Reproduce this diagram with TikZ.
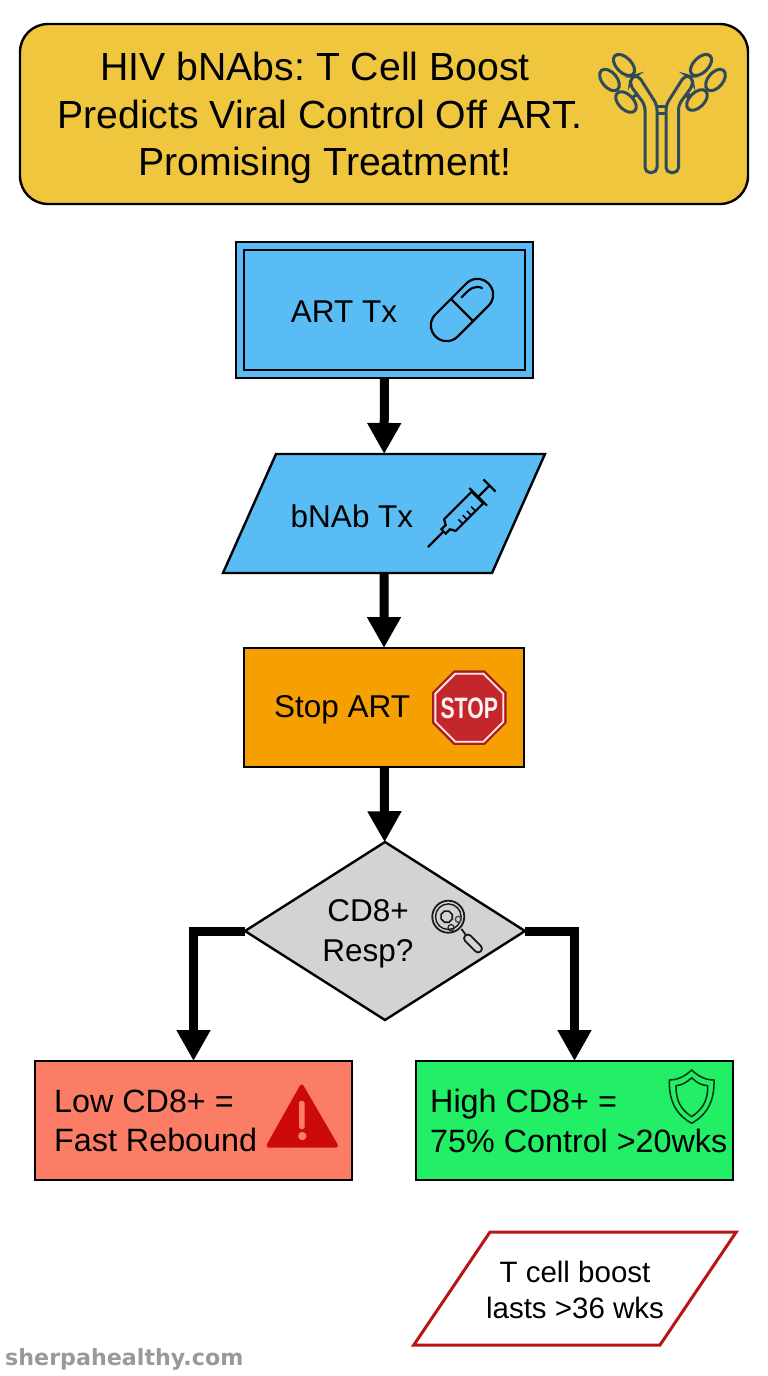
\documentclass[tikz,border=0pt]{standalone}
\usepackage{fontspec}
\setmainfont{Liberation Sans}
\newfontfamily\markfont{DejaVu Sans}
\usetikzlibrary{arrows.meta,shapes.geometric}
\definecolor{titlefill}{HTML}{EFC63E}
\definecolor{bluefill}{HTML}{5ABCF5}
\definecolor{orangefill}{HTML}{F5A000}
\definecolor{greyfill}{HTML}{D3D3D3}
\definecolor{lowfill}{HTML}{FB7D66}
\definecolor{highfill}{HTML}{22EE66}
\definecolor{noteline}{HTML}{B81414}
\definecolor{abcolor}{HTML}{2F4A5A}
\definecolor{stopfill}{HTML}{C4272B}
\definecolor{warnfill}{HTML}{CC0A0A}
\frenchspacing
\begin{document}
\begin{tikzpicture}[
  x=1pt, y=-1pt,
  box/.style={draw=black, line width=2.4pt, inner sep=0pt, outer sep=0pt},
  para/.style={box, trapezium},
  flow/.style={line width=9pt, black, -{Triangle[width=32pt,length=31pt]}},
  txt/.style={font=\fontsize{31.5}{39.5}\selectfont, align=center, inner sep=0pt},
  sidetxt/.style={txt, font=\fontsize{32.3}{39.5}\selectfont, anchor=west, align=left},
  ab/.style={abcolor, line width=3pt},
  icon/.style={black, line width=2.2pt},
  lens/.style={black!90, line width=1.8pt},
]
\useasboundingbox (0,0) rectangle (768,1376);

% --- title ---
\node[box, fill=titlefill, rounded corners=28pt, minimum width=728pt, minimum height=180pt] (title) at (384,114) {};
\node[inner sep=0pt, align=center, font=\fontsize{39.2}{47.2}\selectfont] (titletxt) at (320,118) {HIV bNAbs: T Cell Boost\hspace*{10pt}\\Predicts Viral Control Off ART.\\\hspace*{10pt}Promising Treatment!};

% --- flow boxes ---
\node[box, fill=bluefill, minimum width=297pt, minimum height=136pt] (art) at (384.5,310) {};
\node[box, minimum width=281pt, minimum height=120pt] (artin) at (384.5,310) {};
\node[para, fill=bluefill, trapezium left angle=66, trapezium right angle=114] (bnab) at (384,513.5) {\phantom{\rule{216pt}{119pt}}};
\node[box, fill=orangefill, minimum width=280pt, minimum height=119pt] (stop) at (384,707.5) {};
\node[box, diamond, fill=greyfill, minimum width=280pt, minimum height=178pt] (resp) at (385,931) {};
\node[box, fill=lowfill, minimum width=317pt, minimum height=119pt] (low) at (193.5,1120.5) {};
\node[box, fill=highfill, minimum width=317pt, minimum height=119pt] (high) at (574.5,1120.5) {};
\node[para, draw=noteline, line width=3pt, fill=white, trapezium left angle=56, trapezium right angle=124] (note) at (575,1288.5) {\phantom{\rule{170pt}{113pt}}};

% --- arrows ---
\draw[flow] (art) -- (bnab);
\draw[flow] (bnab) -- (stop);
\draw[flow] (stop) -- (resp);
\draw[flow] (resp.west) -| (low.north);
\draw[flow] (resp.east) -| (high.north);

% --- labels ---
\node[txt] (arttxt) at (344,312) {ART Tx};
\node[txt] (bnabtxt) at (352,516) {bNAb Tx};
\node[txt] (stoptxt) at (342,710) {Stop ART};
\node[txt] (resptxt) at (368,934) {CD8+\\Resp?};
\node[sidetxt] (lowtxt) at (54,1121) {Low CD8+ =\\Fast Rebound};
\node[sidetxt] (hightxt) at (430,1121) {High CD8+ =\\75\% Control >20wks};
\node[txt, font=\fontsize{29.5}{36}\selectfont] (notetxt) at (575,1290) {T cell boost\\lasts >36 wks};
\node[anchor=base west, inner sep=0pt, text=black!40, font=\markfont\bfseries\fontsize{22.2}{26}\selectfont] (site) at (5,1365) {sherpahealthy.com};

% --- antibody icon ---
\draw[ab, rounded corners=5pt] (645,105) -- (645,172.5) -- (657,172.5) -- (657,105) -- (638,75) -- (631,77) -- (630,85) -- cycle;
\draw[ab, rounded corners=5pt] (678.5,105) -- (678.5,172.5) -- (666,172.5) -- (666,105) -- (685,75) -- (692,77) -- (693,85) -- cycle;
\draw[ab] (657,106) -- (666,106) (657,113) -- (666,113);
\draw[ab, rotate around={-45:(624,65)}] (624,65) ellipse (13 and 7.5);
\draw[ab, rotate around={-50:(609.5,80)}] (609.5,80) ellipse (12.5 and 7.5);
\draw[ab, rotate around={-45:(626,102)}] (626,102) ellipse (12.5 and 7.5);
\draw[ab, rotate around={45:(701,65)}] (701,65) ellipse (13 and 7.5);
\draw[ab, rotate around={50:(715.5,80)}] (715.5,80) ellipse (12.5 and 7.5);
\draw[ab, rotate around={45:(697,100)}] (697,100) ellipse (12.5 and 7.5);
\draw[ab] (633,97) -- (638,94) (690,94) -- (686,97);

% --- pill icon ---
\begin{scope}[shift={(462,310)}, rotate=45]
\draw[icon, rounded corners=15.5pt] (-37.4,-15.7) rectangle (37.4,15.7);
\draw[icon] (0,-15.7) -- (0,15.7);
\end{scope}
\draw[icon, line cap=round] (461.7,297.3) .. controls (470,288) and (475,285) .. (482,288);

% --- syringe icon ---
\begin{scope}[shift={(428,547)}, rotate=45]
\draw[icon] (0,0) -- (22,0);
\draw[icon] (22,-3) -- (22,3) -- (28,3) -- (31,8.2) -- (70,8.2) -- (70,-8.2) -- (31,-8.2) -- (28,-3) -- cycle;
\draw[icon] (71,-12.5) -- (71,12.5);
\draw[icon] (71,0) -- (87,0);
\draw[icon] (87,-8.5) -- (87,8.5);
\draw[icon, line width=1.6pt] (41,8.2) -- (41,2) (47,8.2) -- (47,2) (53,8.2) -- (53,2) (59,8.2) -- (59,2);
\end{scope}

% --- stop sign ---
\node[regular polygon, regular polygon sides=8, draw=stopfill!80!black, fill=stopfill, line width=1.5pt, minimum size=79pt, inner sep=0pt, outer sep=0pt] (sign) at (469.3,707.7) {};
\node[regular polygon, regular polygon sides=8, draw=white!90!red, line width=1.8pt, minimum size=73.5pt, inner sep=0pt] (signin) at (469.3,707.7) {};
\node[text=white!95!red, inner sep=0pt, font=\bfseries\fontsize{29.5}{29}\selectfont] (signtxt) at (469.3,708) {\scalebox{0.72}[1]{STOP}};

% --- magnifier icon ---
\draw[lens] (448.3,916.7) circle (16);
\draw[lens, line width=1.4pt] (448.3,916.7) circle (12.8);
\draw[lens] (461.5,929) -- (466,935);
\draw[lens, rotate around={-45:(473,943.5)}, rounded corners=3.6pt] (462,939.7) rectangle (484,947.3);
\node[regular polygon, regular polygon sides=8, draw=black!90, line width=1.6pt, minimum size=12pt, inner sep=0pt] (cellbig) at (446.7,916.7) {};
\draw[black!70, line width=1.4pt] (458.3,919.3) circle (3);
\draw[black!85, line width=1.2pt] (451,927.7) ellipse (3 and 3.2);

% --- warning icon ---
\fill[warnfill, draw=warnfill, line width=4pt, line join=round] (301.7,1086.5) -- (336,1145.5) -- (268.5,1145.5) -- cycle;
\fill[lowfill, rounded corners=2pt] (299,1101) rectangle (304.6,1129);
\fill[lowfill] (302.3,1136) circle (4.2);

% --- shield icon ---
\draw[black!80!highfill, line width=1.5pt, line join=round] (691.7,1070) .. controls (684,1077) and (677,1080) .. (669.3,1080) .. controls (669,1100) and (675,1114) .. (691.7,1123.3) .. controls (708,1114) and (714.5,1100) .. (714,1080) .. controls (706,1080) and (699,1077) .. cycle;
\draw[black!80!highfill, line width=1.5pt, line join=round] (691.7,1077.7) .. controls (686,1083) and (682,1085) .. (676,1085.7) .. controls (676,1100) and (680,1109) .. (691.7,1116.7) .. controls (703,1109) and (708,1100) .. (707.7,1085.7) .. controls (701,1085) and (697,1083) .. cycle;
\end{tikzpicture}
\end{document}
